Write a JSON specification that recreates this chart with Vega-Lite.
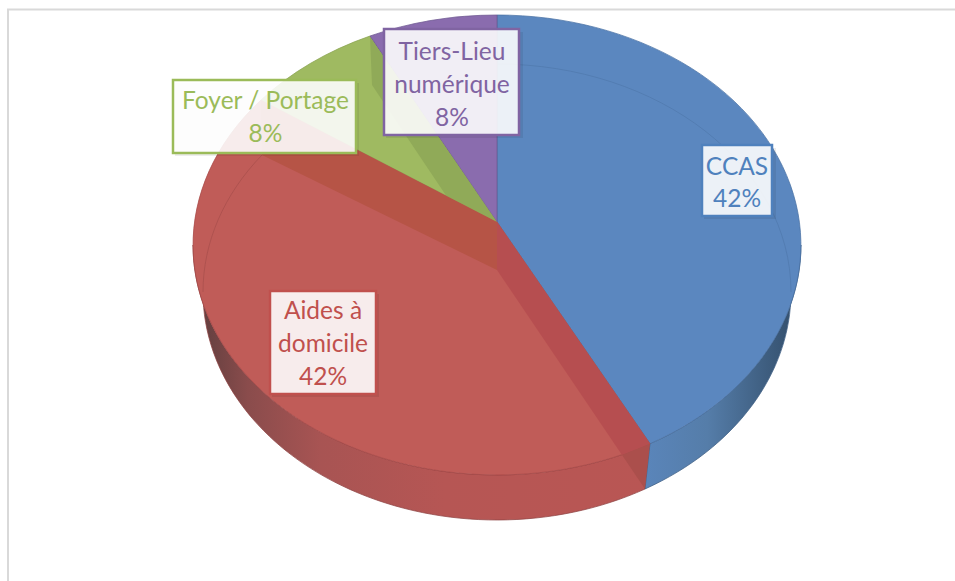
{
"$schema":"https://vega.github.io/schema/vega-lite/v6.json",
"width":955,"height":581,"padding":0,
"autosize":"none",
"background":"white",
"config":{"view":{"stroke":null}},
"resolve":{"scale":{"shape":"independent","fill":"independent","stroke":"independent"}},
"data":{"values":[
{"category":"CCAS","share":42,"label":"CCAS\n42%"},
{"category":"Aides","share":42,"label":"Aides à\ndomicile\n42%"},
{"category":"Foyer","share":8,"label":"Foyer / Portage\n8%"},
{"category":"Tiers","share":8,"label":"Tiers-Lieu\nnumérique\n8%"}
]},
"layer":[
{"transform":[{"filter":"datum.category==='CCAS'"}],"mark":{"type":"point","filled":false,"size":4,"opacity":1,"stroke":"#d9d9d9","strokeWidth":2,"shape":"M-469.5,290.5L-469.5,-281L477.5,-281"}},
{"transform":[{"filter":"datum.category==='Aides'"}],"mark":{"type":"point","filled":true,"size":4,"opacity":1,"stroke":"#8f4444","strokeWidth":0.75,"shape":"M172.5,153.2L167.5,198.5A294,228 0 0 1 -274.5,1.5L-284.5,-45.5A304,230 0 0 0 172.5,153.2Z","fill":{"gradient":"linear","x1":0,"y1":0,"x2":1,"y2":0,"stops":[{"offset":0,"color":"#5c3d3d"},{"offset":0.12,"color":"#8a4c4c"},{"offset":0.28,"color":"#a85453"},{"offset":0.55,"color":"#b65654"},{"offset":1,"color":"#b95654"}]}}},
{"transform":[{"filter":"datum.category==='CCAS'"}],"mark":{"type":"point","filled":true,"size":4,"opacity":1,"stroke":"#3f5f84","strokeWidth":0.75,"shape":"M172.5,153.2L167.5,198.5A294,228 0 0 0 313.5,1.5L323.5,-45.5A304,230 0 0 1 172.5,153.2Z","fill":{"gradient":"linear","x1":0,"y1":0,"x2":1,"y2":0,"stops":[{"offset":0,"color":"#5a85ba"},{"offset":0.4,"color":"#557da9"},{"offset":0.85,"color":"#3a5878"},{"offset":1,"color":"#324c68"}]}}},
{"mark":{"type":"point","filled":true,"size":4,"opacity":1,"strokeWidth":0.75},
 "encoding":{
 "shape":{"field":"category","type":"nominal","legend":null,"scale":{"domain":["CCAS","Aides","Foyer","Tiers"],"range":[
 "M19.5,-68.5L19.5,-275.5A304,230 0 0 1 172.5,153.2Z",
 "M19.5,-68.5L172.5,153.2A304,230 0 0 1 -216.5,-190.5Z",
 "M19.5,-68.5L-216.5,-190.5A304,230 0 0 1 -107.5,-254.5Z",
 "M19.5,-68.5L-107.5,-254.5A304,230 0 0 1 19.5,-275.5Z"]}},
 "fill":{"field":"category","type":"nominal","legend":null,"scale":{"domain":["CCAS","Aides","Foyer","Tiers"],"range":["#5b87bf","#c05c58","#9fba61","#8a6cae"]}},
 "stroke":{"field":"category","type":"nominal","legend":null,"scale":{"domain":["CCAS","Aides","Foyer","Tiers"],"range":["#4a72a4","#a84a48","#8aa352","#6f5a92"]}}
 }},
{"transform":[{"filter":"datum.category==='Foyer'"}],"mark":{"type":"point","filled":true,"size":4,"opacity":1,"fill":"#90aa58","strokeWidth":0,"shape":"M-107.5,-253.5L19.5,-68.5L-30.5,-93.5L-105.5,-205.5Z"}},
{"transform":[{"filter":"datum.category==='Aides'"}],"mark":{"type":"point","filled":true,"size":4,"opacity":1,"fill":"#b65446","strokeWidth":0,"shape":"M19.5,-68.5L-216.5,-190.5L-215.5,-135.5L19.5,-20.5Z"}},
{"transform":[{"filter":"datum.category==='Aides'"}],"mark":{"type":"point","filled":true,"size":4,"opacity":1,"fill":"#b64e50","strokeWidth":0,"shape":"M19.5,-68.5L172.5,153.2L144.5,164.5L19.5,-20.5Z"}},
{"transform":[{"filter":"datum.category==='Aides'"}],"mark":{"type":"point","filled":true,"size":4,"opacity":1,"fill":"#ab4f4c","strokeWidth":0,"shape":"M172.5,153.2L167.5,198.5L144.5,164.5Z"}},
{"transform":[{"filter":"datum.category==='Aides'"}],"mark":{"type":"point","filled":false,"size":4,"opacity":1,"stroke":"#a84f4c","strokeWidth":0.75,"shape":"M-215.5,-135.5A294,228 0 0 0 -274.5,1.5"}},
{"transform":[{"filter":"datum.category==='CCAS'"}],"mark":{"type":"point","filled":false,"size":4,"opacity":1,"stroke":"#507aad","strokeWidth":0.75,"shape":"M19.5,-226.5A294,228 0 0 1 313.5,1.5"}},
{"mark":{"type":"point","filled":true,"size":4,"opacity":0.07,"fill":"#000000","strokeWidth":0},
 "encoding":{"shape":{"field":"category","type":"nominal","legend":null,"scale":{"domain":["CCAS","Aides","Foyer","Tiers"],"range":[
 "M226.5,-142.5H298.5V-71.5H226.5Z",
 "M-205.5,3.5H-98.5V106.5H-205.5Z",
 "M-302.5,-207.5H-118.5V-134.5H-302.5Z",
 "M-91.5,-258.5H45.5V-152.5H-91.5Z"]}}}},
{"mark":{"type":"point","filled":true,"size":4,"opacity":1,"fill":"#ffffff","fillOpacity":0.89,"strokeWidth":2.5},
 "encoding":{
 "shape":{"field":"category","type":"nominal","legend":null,"scale":{"domain":["CCAS","Aides","Foyer","Tiers"],"range":[
 "M224.5,-145.5H294.5V-74.5H224.5Z",
 "M-207.5,0.5H-101.5V103.5H-207.5Z",
 "M-304.5,-210.5H-121.5V-137.5H-304.5Z",
 "M-93.5,-261.5H41.5V-155.5H-93.5Z"]}},
 "stroke":{"field":"category","type":"nominal","legend":null,"scale":{"domain":["CCAS","Aides","Foyer","Tiers"],"range":["#4f81bd","#c0504d","#9bbb59","#8064a2"]}}
 }},
{"transform":[{"filter":"datum.category==='CCAS'"}],"mark":{"type":"text","font":"Lato","fontSize":24.5,"lineBreak":"\n","lineHeight":32,"align":"center","baseline":"middle","color":"#4f81bd","dx":259.5,"dy":-122.5},"encoding":{"text":{"field":"label"}}},
{"transform":[{"filter":"datum.category==='Aides'"}],"mark":{"type":"text","font":"Lato","fontSize":24.5,"lineBreak":"\n","lineHeight":33,"align":"center","baseline":"middle","color":"#c0504d","dx":-154.5,"dy":21.5},"encoding":{"text":{"field":"label"}}},
{"transform":[{"filter":"datum.category==='Foyer'"}],"mark":{"type":"text","font":"Lato","fontSize":24.5,"lineBreak":"\n","lineHeight":33,"align":"center","baseline":"middle","color":"#9bbb59","dx":-212,"dy":-188.5},"encoding":{"text":{"field":"label"}}},
{"transform":[{"filter":"datum.category==='Tiers'"}],"mark":{"type":"text","font":"Lato","fontSize":24.5,"lineBreak":"\n","lineHeight":33,"align":"center","baseline":"middle","color":"#8064a2","dx":-25.5,"dy":-238},"encoding":{"text":{"field":"label"}}}
]
}
